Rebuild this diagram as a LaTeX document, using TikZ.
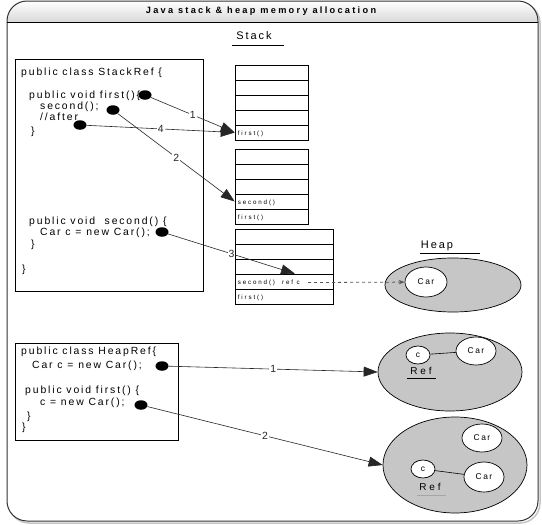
\documentclass[tikz,border=0pt]{standalone}
\usepackage{fontspec}
\setmainfont{Liberation Sans}[LetterSpace=18]
\newfontfamily\titlefont{Liberation Sans}[LetterSpace=25]
\newfontfamily\cellfont{Liberation Sans}[LetterSpace=30]
\newfontfamily\reffont{Liberation Sans}[LetterSpace=28]
\usetikzlibrary{arrows.meta, positioning, shapes.geometric}

\begin{document}
\begin{tikzpicture}[x=1pt, y=-1pt, >={Triangle[length=14pt, width=10pt]},
    code/.style={anchor=mid west, inner sep=0pt, font=\fontsize{10.4}{12}\selectfont},
    box/.style={draw, line width=0.7pt, inner sep=0pt},
    cell/.style={draw, line width=0.6pt, minimum width=73pt, minimum height=15pt, inner sep=0pt},
    celltext/.style={anchor=mid west, inner sep=0pt, font=\cellfont\fontsize{6.2}{7}\selectfont},
    dot/.style={ellipse, fill=black, minimum width=13pt, minimum height=9.5pt, inner sep=0pt},
    num/.style={fill=white, inner sep=1pt, font=\fontsize{10.4}{12}\selectfont},
    link/.style={->, black!85, line width=0.6pt},
    heap/.style={ellipse, draw, line width=0.7pt, fill=gray!45, inner sep=0pt},
    obj/.style={ellipse, draw, line width=0.7pt, fill=white, inner sep=0pt, font=\fontsize{8.4}{9}\selectfont},
    label/.style={inner sep=0pt, font=\fontsize{11}{13}\selectfont}]
    \useasboundingbox (0,0) rectangle (542,525);

    % Marco y titulo
    \draw[gray!45, line width=1.5pt, rounded corners=20pt] (9,3) rectangle (540,523);
    \draw[fill=white, draw=none, rounded corners=20pt] (7,1) rectangle (538,521);
    \begin{scope}
        \clip[rounded corners=20pt] (7,1) rectangle (538,521);
        \shade[top color=white, bottom color=gray!30] (7,1) rectangle (538,22);
    \end{scope}
    \draw[gray!40!black, line width=1pt, rounded corners=20pt] (7,1) rectangle (538,521);
    \draw[line width=0.8pt] (7,22) -- (538,22);
    \node[inner sep=0pt, font=\titlefont\bfseries\fontsize{9.2}{11}\selectfont] (title) at (261,11) {Java stack \& heap memory allocation};

    % Clase StackRef
    \node[box, minimum width=188pt, minimum height=232pt] (stackref) at (109,175) {};
    \node[code] (s1) at (21,73) {public class StackRef \{};
    \node[code] (s2) at (29,96) {public void first()\{};
    \node[code] (s3) at (40,107) {second();};
    \node[code] (s4) at (40,118) {//after};
    \node[code] (s5) at (31,132) {\}};
    \node[code] (s6) at (29,222) {public void \ second() \{};
    \node[code] (s7) at (40,233) {Car c = new Car();};
    \node[code] (s8) at (31,245) {\}};
    \node[code] (s9) at (22,270) {\}};
    \node[dot] (d1) at (145,95) {};
    \node[dot] (d2) at (113,110) {};
    \node[dot] (d3) at (80,125) {};
    \node[dot] (d4) at (162,232) {};

    % Pila
    \node[label] (stack) at (254,36) {Stack};
    \draw[line width=0.6pt] (232,45) -- (284,45);
    \foreach \i in {1,...,5} {
        \node[cell] (a\i) at (271.5,57.5+15*\i) {};
        \node[cell] (b\i) at (271.5,141.5+15*\i) {};
        \node[cell, minimum width=98pt] (c\i) at (284,221.5+15*\i) {};
    }
    \node[celltext] at ([xshift=3pt]a5.west) {first()};
    \node[celltext] at ([xshift=3pt]b4.west) {second()};
    \node[celltext] at ([xshift=3pt]b5.west) {first()};
    \node[celltext] (refc) at ([xshift=3pt]c4.west) {second()\ \ ref c};
    \node[celltext] at ([xshift=3pt]c5.west) {first()};

    % Montículo
    \node[label] (heap) at (437,246) {Heap};
    \draw[line width=0.6pt] (420,253) -- (480,253);
    \node[heap, minimum width=136pt, minimum height=54pt] (h0) at (453,285) {};
    \node[obj, minimum width=42pt, minimum height=30pt] (car0) at (426,282) {Car};

    % Flechas de la pila
    \draw[link] (d1) -- node[num] {1} (a5.west);
    \draw[link] (d3) -- node[num] {4} (a5.west);
    \draw[link] (d2) -- node[num] {2} (b4.west);
    \draw[link] (d4) -- node[num] {3} ([xshift=11pt]c4.north);
    \draw[dashed, gray!70!black, line width=0.8pt, -{Stealth[length=6pt]}] ([xshift=8pt]refc.east) -- (car0);

    % Clase HeapRef
    \node[box, minimum width=163pt, minimum height=97pt] (heapref) at (96.5,391.5) {};
    \node[code] (r1) at (21,352) {public class HeapRef\{};
    \node[code] (r2) at (32,366) {Car c = new Car();};
    \node[code] (r3) at (25,391) {public void first() \{};
    \node[code] (r4) at (40,403) {c = new Car();};
    \node[code] (r5) at (27,417) {\}};
    \node[code] (r6) at (22,428) {\}};
    \node[dot] (d5) at (162,366) {};
    \node[dot] (d6) at (141,405) {};

    % Objetos en el montículo
    \node[heap, minimum width=144pt, minimum height=78pt] (h1) at (450,372) {};
    \node[obj, minimum width=24pt, minimum height=18pt] (c1) at (418,355) {c};
    \node[obj, minimum width=40pt, minimum height=28pt] (car1) at (476,351) {Car};
    \draw[line width=0.6pt] (c1) -- (car1);
    \node[inner sep=0pt, font=\reffont\fontsize{10}{12}\selectfont] (ref1) at (421,371) {Ref};
    \draw[line width=0.6pt] (407,378) -- (436,378);

    \node[heap, minimum width=144pt, minimum height=96pt] (h2) at (455,465) {};
    \node[obj, minimum width=40pt, minimum height=28pt] (car2) at (482,438) {Car};
    \node[obj, minimum width=24pt, minimum height=18pt] (c2) at (423,469) {c};
    \node[obj, minimum width=40pt, minimum height=30pt] (car3) at (484,477) {Car};
    \draw[line width=0.6pt] (c2) -- (car3);
    \node[inner sep=0pt, font=\reffont\fontsize{10}{12}\selectfont] (ref2) at (430,487) {Ref};
    \draw[line width=0.8pt, gray!70] (417,495) -- (446,495);

    % Flechas del montículo
    \draw[link] (d5) -- node[num] {1} (h1.west);
    \draw[link] (d6) -- node[num] {2} (h2.west);
\end{tikzpicture}
\end{document}
